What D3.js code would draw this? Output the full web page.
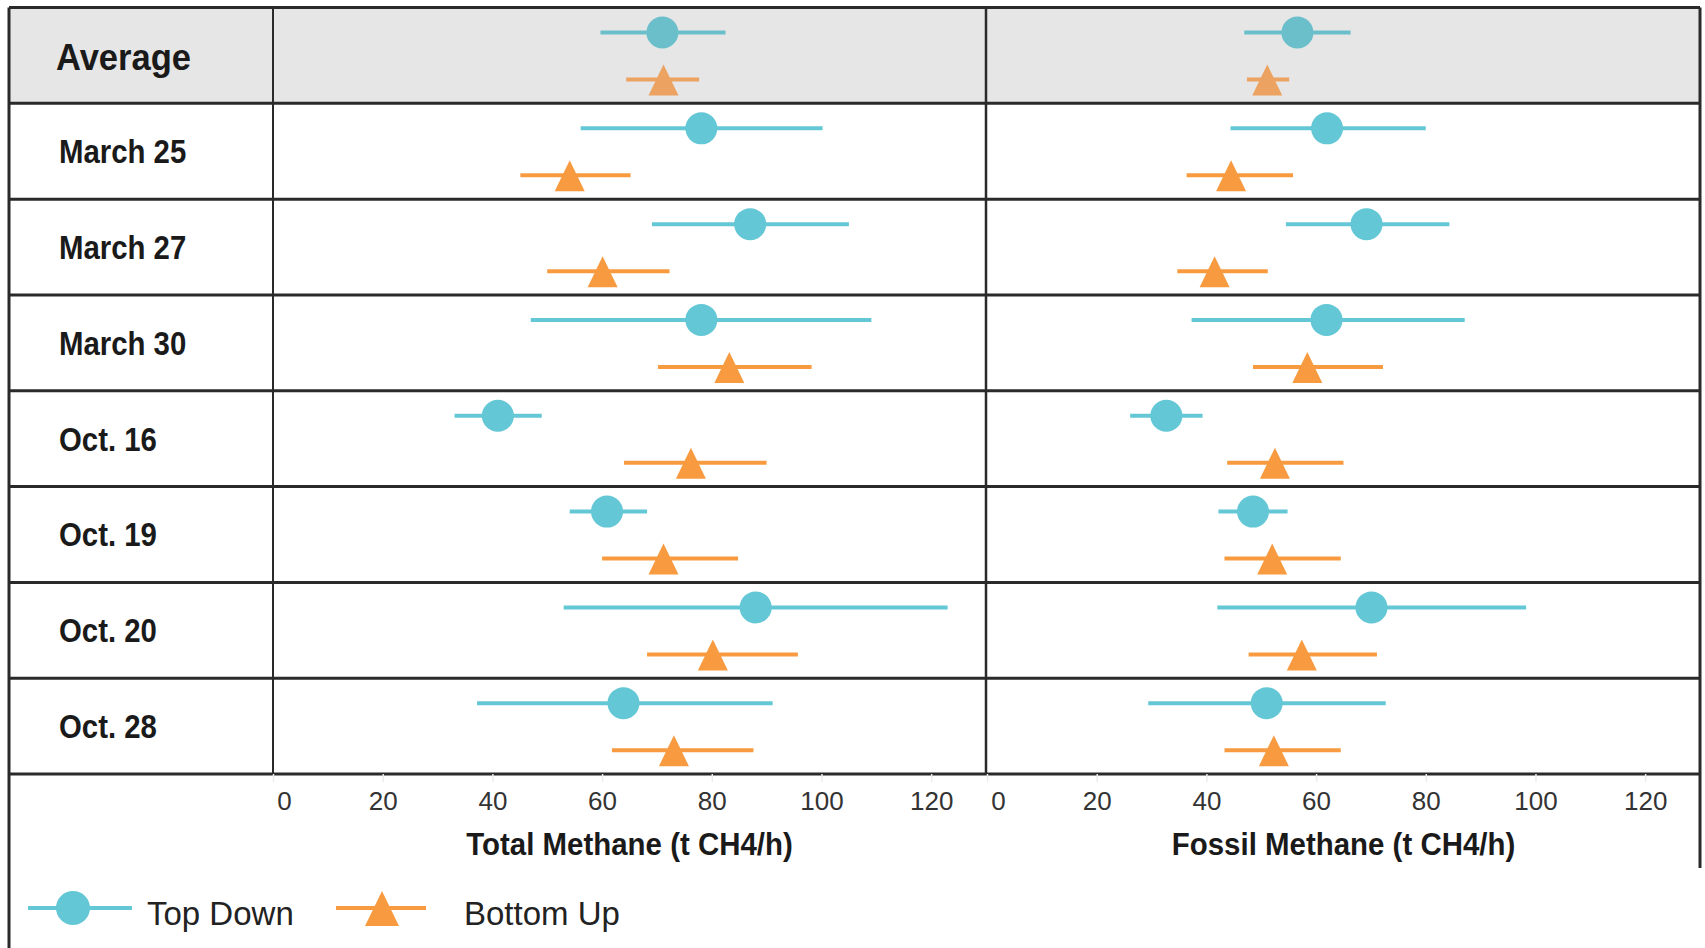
<!DOCTYPE html>
<html>
<head>
<meta charset="utf-8">
<script src="https://cdn.jsdelivr.net/npm/d3@7"></script>
<style>
  body { margin: 0; background: #fff; }
  text { font-family: "Liberation Sans", Arial, sans-serif; }
</style>
</head>
<body>
<div id="chart"></div>
<script>
////////////////////////////////////////////////////////////////////////
// Data (t CH4/h)

let rows = ["Average", "March 25", "March 27", "March 30", "Oct. 16", "Oct. 19", "Oct. 20", "Oct. 28"];
let series = ["Top Down", "Bottom Up"];
let tickVals = [0, 20, 40, 60, 80, 100, 120];
let axisTitles = ["Total Methane (t CH4/h)", "Fossil Methane (t CH4/h)"];

// total methane
let totalTD     = [71.0, 78.1, 87.0, 78.1, 41.0, 60.9, 88.0, 63.9];
let totalTDLow  = [59.7, 56.1, 69.1, 47.0, 33.1, 54.1, 53.0, 37.2];
let totalTDHigh = [82.5, 100.2, 105.0, 109.1, 49.0, 68.2, 123.0, 91.1];
let totalBU     = [71.2, 54.1, 60.1, 83.2, 76.2, 71.2, 80.2, 73.1];
let totalBULow  = [64.4, 45.1, 50.0, 70.2, 64.0, 60.0, 68.2, 61.8];
let totalBUHigh = [77.7, 65.2, 72.3, 98.2, 90.0, 84.8, 95.7, 87.6];

// fossil methane
let fossilTD     = [56.6, 62.0, 69.2, 61.9, 32.7, 48.5, 70.1, 51.0];
let fossilTDLow  = [46.9, 44.4, 54.5, 37.3, 26.1, 42.2, 42.0, 29.4];
let fossilTDHigh = [66.3, 80.0, 84.3, 87.1, 39.3, 54.8, 98.3, 72.7];
let fossilBU     = [51.1, 44.5, 41.5, 58.4, 52.5, 52.0, 57.4, 52.3];
let fossilBULow  = [47.4, 36.4, 34.7, 48.5, 43.8, 43.3, 47.7, 43.3];
let fossilBUHigh = [55.1, 55.8, 51.2, 72.2, 65.0, 64.5, 71.1, 64.5];

////////////////////////////////////////////////////////////////////////
// Layout

let width = 1705, height = 948;
let tableLeft = 9, tableRight = 1700;
let labelDiv = 273, panelDiv = 986;
let tableTop = 7.5, tableBottom = 774;

let colors = { "Top Down": "#63c7d6", "Bottom Up": "#f89b40" };
let mutedColors = { "Top Down": "#6bbfcb", "Bottom Up": "#eca260" };

let svg = d3.select("#chart")
  .append("svg")
  .attr("width", width)
  .attr("height", height);

// scales
let yRow = d3.scaleBand().domain(rows).range([tableTop, tableBottom]);
let ySeries = d3.scalePoint().domain(series).range([25, 72]);
let xTotal = d3.scaleLinear().domain([0, 130]).range([labelDiv, panelDiv]);
let xFossil = d3.scaleLinear().domain([0, 130]).range([panelDiv + 1, tableRight]);

// triangle centred on the whisker line
function triangle(h) {
  return d3.line()([[0, -h], [h, h + 1], [-h, h + 1]]) + "Z";
}

////////////////////////////////////////////////////////////////////////
// Table background and grid

svg.append("rect")
  .attr("x", tableLeft)
  .attr("y", yRow(rows[0]))
  .attr("width", tableRight - tableLeft)
  .attr("height", yRow.bandwidth())
  .attr("fill", "#e6e6e6");

// horizontal lines
let hLines = rows.map(r => yRow(r)).concat([tableBottom]);
svg.append("g")
  .selectAll("line")
  .data(hLines)
  .enter()
  .append("line")
  .attr("x1", tableLeft)
  .attr("x2", tableRight)
  .attr("y1", d => d)
  .attr("y2", d => d)
  .attr("stroke", "#2a2a2a")
  .attr("stroke-width", 3);

// vertical lines
let vLines = [
  [tableLeft, tableTop, height, 3],
  [labelDiv, tableTop, tableBottom, 2],
  [panelDiv, tableTop, tableBottom, 2.5],
  [tableRight, tableTop, 868, 3]
];
svg.append("g")
  .selectAll("line")
  .data(vLines)
  .enter()
  .append("line")
  .attr("x1", d => d[0])
  .attr("x2", d => d[0])
  .attr("y1", d => d[1])
  .attr("y2", d => d[2])
  .attr("stroke", "#2a2a2a")
  .attr("stroke-width", d => d[3]);

// row labels
svg.append("g")
  .selectAll("text")
  .data(rows)
  .enter()
  .append("text")
  .attr("transform", (d, i) => {
    let cy = yRow(d) + yRow.bandwidth() / 2;
    return i == 0
      ? `translate(56,${cy + 15}) scale(0.96,1)`
      : `translate(59,${cy + 12}) scale(0.89,1)`;
  })
  .attr("font-size", (d, i) => i == 0 ? 36 : 33)
  .attr("font-weight", "bold")
  .attr("fill", "#1a1a1a")
  .text(d => d);

////////////////////////////////////////////////////////////////////////
// Panels

function drawPanel(xScale, tdMid, tdLow, tdHigh, buMid, buLow, buHigh, title) {
  let data = [];
  rows.forEach((r, i) => {
    data.push({ row: r, i: i, s: "Top Down", mid: tdMid[i], low: tdLow[i], high: tdHigh[i] });
    data.push({ row: r, i: i, s: "Bottom Up", mid: buMid[i], low: buLow[i], high: buHigh[i] });
  });
  let colorOf = d => d.i == 0 ? mutedColors[d.s] : colors[d.s];
  let yOf = d => yRow(d.row) + ySeries(d.s);

  let g = svg.append("g");

  // whiskers
  g.selectAll("line")
    .data(data)
    .enter()
    .append("line")
    .attr("x1", d => xScale(d.low))
    .attr("x2", d => xScale(d.high))
    .attr("y1", yOf)
    .attr("y2", yOf)
    .attr("stroke", colorOf)
    .attr("stroke-width", 4);

  // top down circles
  g.selectAll("circle")
    .data(data.filter(d => d.s == "Top Down"))
    .enter()
    .append("circle")
    .attr("cx", d => xScale(d.mid))
    .attr("cy", yOf)
    .attr("r", 16)
    .attr("fill", colorOf);

  // bottom up triangles
  g.selectAll("path")
    .data(data.filter(d => d.s == "Bottom Up"))
    .enter()
    .append("path")
    .attr("transform", d => `translate(${xScale(d.mid)},${yOf(d)})`)
    .attr("d", triangle(15))
    .attr("fill", colorOf);

  // x axis, ticks are very faint in the original
  let axis = svg.append("g")
    .attr("transform", `translate(0,${tableBottom})`)
    .call(d3.axisBottom(xScale).tickValues(tickVals).tickSize(8).tickSizeOuter(0))
    .attr("font-size", 26)
    .attr("font-family", null);
  axis.select(".domain").remove();
  axis.selectAll(".tick line").attr("stroke", "#ececec").attr("stroke-width", 1.5);
  axis.selectAll(".tick text")
    .attr("y", 36)
    .attr("dy", 0)
    .attr("dx", d => d == 0 ? 11 : 0)
    .attr("fill", "#333");

  // axis title
  let cx = (xScale.range()[0] + xScale.range()[1]) / 2;
  svg.append("text")
    .attr("transform", `translate(${cx},855) scale(0.95,1)`)
    .attr("text-anchor", "middle")
    .attr("font-size", 31)
    .attr("font-weight", "bold")
    .attr("fill", "#1a1a1a")
    .text(title);
}

drawPanel(xTotal, totalTD, totalTDLow, totalTDHigh, totalBU, totalBULow, totalBUHigh, axisTitles[0]);
drawPanel(xFossil, fossilTD, fossilTDLow, fossilTDHigh, fossilBU, fossilBULow, fossilBUHigh, axisTitles[1]);

////////////////////////////////////////////////////////////////////////
// Legend

let legendY = 908;
let legend = [
  { s: "Top Down", x1: 28, x2: 132, cx: 73, tx: 147 },
  { s: "Bottom Up", x1: 336, x2: 426, cx: 382, tx: 464 }
];
let lg = svg.append("g")
  .selectAll("g")
  .data(legend)
  .enter()
  .append("g");

lg.append("line")
  .attr("x1", d => d.x1)
  .attr("x2", d => d.x2)
  .attr("y1", legendY)
  .attr("y2", legendY)
  .attr("stroke", d => colors[d.s])
  .attr("stroke-width", 4);

lg.filter(d => d.s == "Top Down")
  .append("circle")
  .attr("cx", d => d.cx)
  .attr("cy", legendY)
  .attr("r", 17)
  .attr("fill", d => colors[d.s]);

lg.filter(d => d.s == "Bottom Up")
  .append("path")
  .attr("transform", d => `translate(${d.cx},${legendY})`)
  .attr("d", triangle(17))
  .attr("fill", d => colors[d.s]);

lg.append("text")
  .attr("x", d => d.tx)
  .attr("y", 925)
  .attr("font-size", 33)
  .attr("fill", "#222")
  .text(d => d.s);
</script>
</body>
</html>
